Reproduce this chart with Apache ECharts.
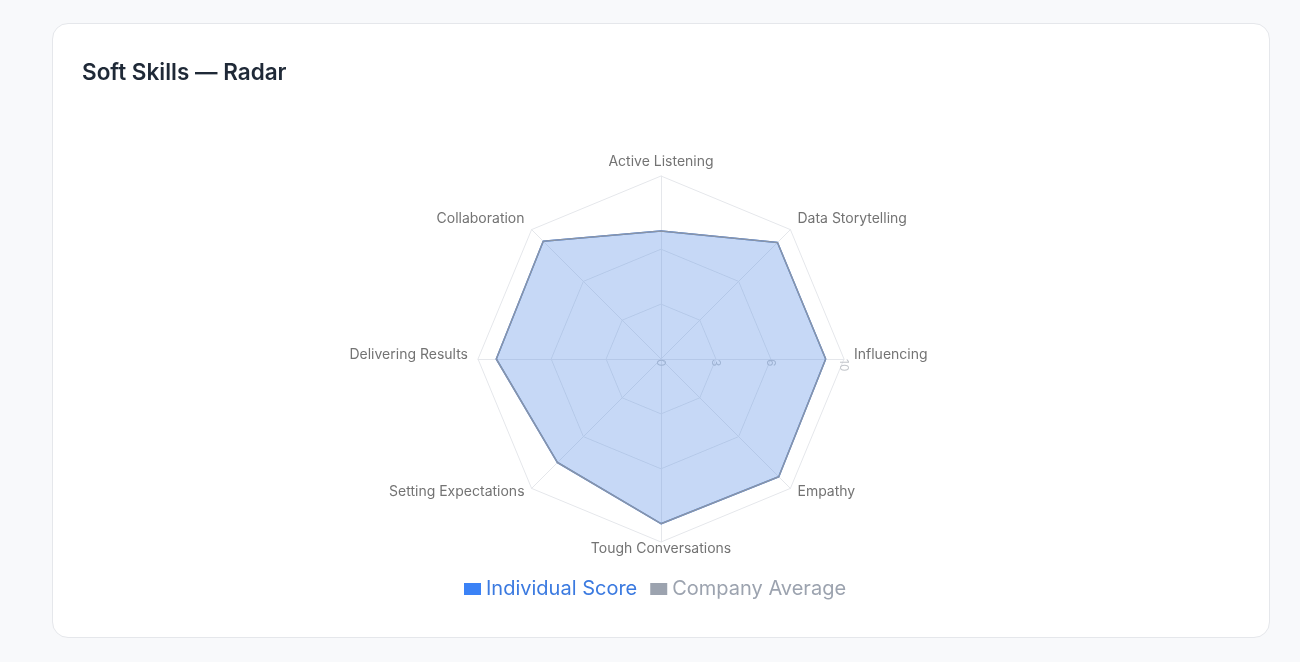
<!DOCTYPE html>
<html>
<head>
<meta charset="utf-8">
<script src="https://cdn.jsdelivr.net/npm/echarts@6/dist/echarts.min.js"></script>
<style>
  html, body { margin: 0; padding: 0; background: #f8f9fb; font-family: Inter, "Noto Sans", sans-serif; }
  .card {
    position: absolute; left: 52px; top: 23px; width: 1216px; height: 613px;
    background: #fff; border: 1px solid #e5e7eb; border-radius: 16px;
  }
  #chart { position: absolute; left: 0; top: 0; width: 100%; height: 100%; }
</style>
</head>
<body>
<div class="card">
  <div id="chart"></div>
</div>
<script>
// 轴顺序：从右侧开始逆时针
const skills = ['Influencing', 'Data Storytelling', 'Active Listening', 'Collaboration',
  'Delivering Results', 'Setting Expectations', 'Tough Conversations', 'Empathy'];
const individualScore = [9, 9, 7, 9.1, 9, 8, 9, 9.1];
const companyAverage = [9, 9, 7, 9.1, 9, 8, 9, 9.1];
const maxScore = 10;
const tickLabels = [0, 3, 6, 10];

const chart = echarts.init(document.getElementById('chart'));

// 只显示 3、6、10 的环线（其余透明）
const ringColors = [];
for (let i = 0; i <= maxScore; i++) {
  ringColors.push(tickLabels.indexOf(i) > 0 ? '#e5e7eb' : 'rgba(0,0,0,0)');
}

const option = {
  textStyle: { fontFamily: 'Inter' },
  title: {
    text: 'Soft Skills — Radar',
    left: 29,
    top: 38,
    padding: 0,
    textStyle: { fontSize: 22.5, fontWeight: 600, color: '#1f2937', fontFamily: 'Inter' }
  },
  legend: {
    top: 550,
    left: 406,
    itemWidth: 17,
    itemHeight: 12,
    itemGap: 13,
    icon: 'rect',
    textStyle: { fontSize: 20, fontFamily: 'Inter' },
    data: [
      { name: 'Individual Score', textStyle: { color: '#3b7ae0' } },
      { name: 'Company Average', textStyle: { color: '#9ca3af' } }
    ]
  },
  radar: {
    center: [608, 335],
    radius: 183,
    startAngle: 0,
    splitNumber: maxScore,
    shape: 'polygon',
    axisName: {
      formatter: name => '{n|' + name + '}\n{g|}',
      rich: {
        n: { color: '#737373', fontSize: 14, fontFamily: 'Inter', lineHeight: 17 },
        g: { fontSize: 1, lineHeight: 8 }
      }
    },
    axisNameGap: 10,
    splitLine: { lineStyle: { color: ringColors, width: 1 } },
    splitArea: { show: false },
    axisLine: { lineStyle: { color: '#e5e7eb' } },
    axisLabel: { show: false },
    indicator: skills.map((s, i) => {
      const ind = { name: s, max: maxScore, min: 0 };
      // 竖直方向的两个轴名称间距更小
      if (i === 2) ind.nameGap = -2;
      if (i === 6) ind.nameGap = -2;
      if (i === 0) {
        ind.axisLabel = {
          show: true,
          color: '#c4c7cc',
          fontSize: 12,
          rotate: -90,
          align: 'left',
          verticalAlign: 'middle',
          padding: [0, 0, 7, 0],
          margin: 0,
          formatter: v => (tickLabels.indexOf(v) >= 0 ? String(v) : '')
        };
      } else {
        ind.axisLabel = { show: false };
      }
      return ind;
    })
  },
  series: [{
    type: 'radar',
    symbol: 'none',
    data: [
      {
        name: 'Individual Score',
        value: individualScore,
        itemStyle: { color: '#3b82f6' },
        lineStyle: { color: '#3b82f6', width: 1.5 },
        areaStyle: { color: 'rgba(59,130,246,0.38)' }
      },
      {
        name: 'Company Average',
        value: companyAverage,
        itemStyle: { color: '#9ca3af' },
        lineStyle: { color: '#8a94a6', width: 1.5 },
        areaStyle: { color: 'rgba(156,163,175,0.12)' }
      }
    ]
  }]
};

chart.setOption(option);
window.addEventListener('resize', () => chart.resize());
</script>
</body>
</html>
